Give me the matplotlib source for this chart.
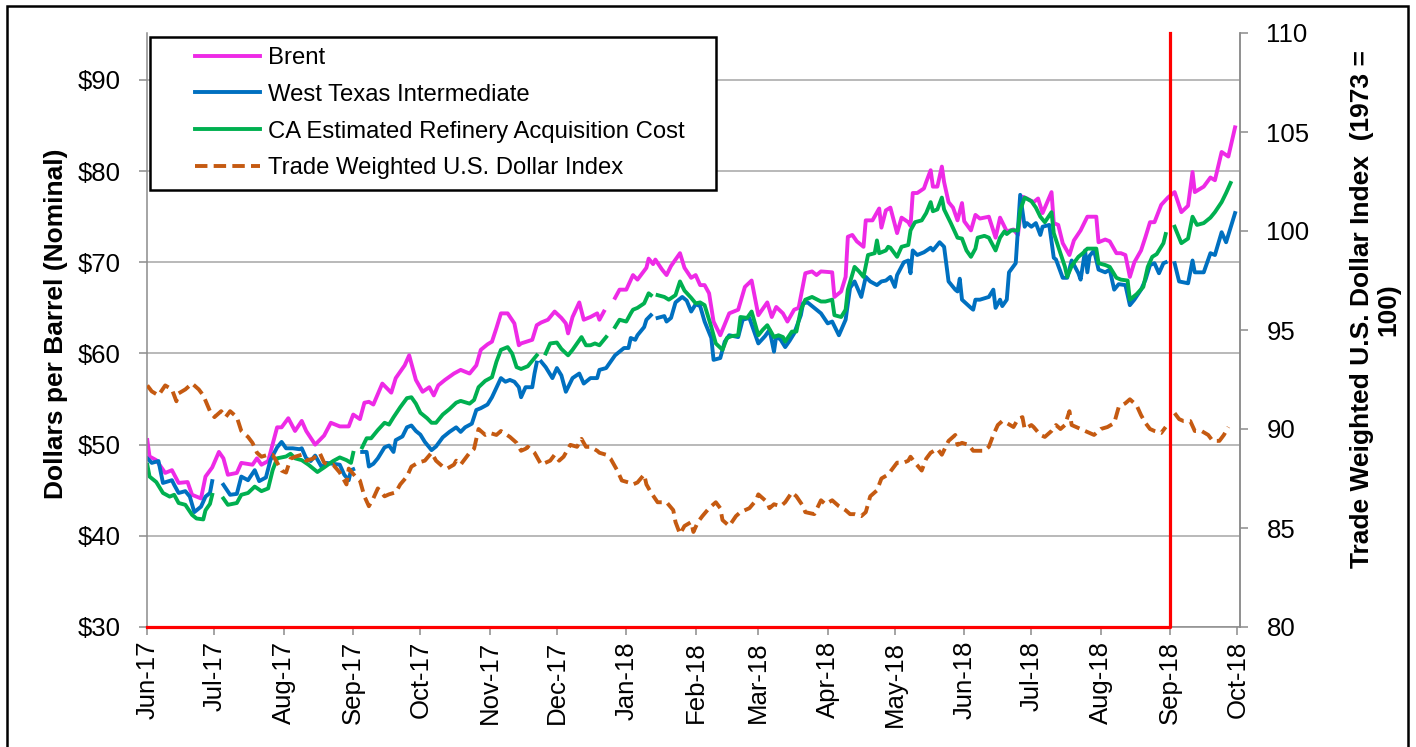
import numpy as np
import pandas as pd
import matplotlib
matplotlib.use("Agg")
import matplotlib.pyplot as plt
import matplotlib.dates as mdates
from matplotlib.lines import Line2D
from matplotlib.patches import Rectangle
from matplotlib.legend_handler import HandlerLine2D

nan = np.nan
START = "2017-06-01"          # day 0 of the day offsets below
MARKER_DATE = "2018-09-01"    # red vertical marker

# ---------------- data (day offset from START, value) ----------------
brent_day = [0,1,4,8,11,14,18,20,24,26,29,32,34,36,40,42,47,49,51,54,58,60,63,66,69,71,75,79,82,86,90,92,95,97,99,101,
             105,107,109,111,115,117,120,123,126,128,130,133,137,140,144,147,149,152,154,156,158,161,164,166,167,172,174,
             176,179,182,185,187,188,190,193,195,198,201,202,204,206,209,211,214,217,219,223,224,226,227,230,232,234,236,
             238,240,243,245,247,249,251,253,256,260,264,267,270,273,277,279,281,284,286,289,291,294,297,299,301,306,307,
             310,312,313,315,317,320,321,324,327,328,330,332,335,337,340,341,342,344,347,348,350,351,353,355,356,358,360,
             362,364,365,368,370,372,376,379,381,384,387,389,391,393,396,398,400,404,405,407,409,412,414,417,420,424,425,
             428,430,433,435,437,439,441,444,446,448,450,453,456,459,462,465,467,468,472,475,477,480,483,486]
brent_usd = [50.5,48.7,48.3,46.9,47.2,45.8,45.9,44.5,44.1,46.5,47.5,49.2,48.5,46.7,46.9,48.0,47.8,48.5,47.8,48.2,51.9,51.9,
             52.9,51.5,52.6,51.5,50.0,51.0,52.4,52.0,52.0,53.3,52.8,54.6,54.7,54.4,56.7,56.2,55.7,57.3,58.7,59.8,57.1,55.8,
             56.3,55.4,56.5,57.1,57.8,58.2,57.8,58.7,60.4,61.0,61.3,62.8,64.4,64.4,63.3,60.9,61.1,61.5,63.1,63.4,63.7,64.6,
             63.9,63.3,62.2,64.0,65.6,63.7,64.0,64.4,63.7,64.6,nan,66.1,67.0,67.0,68.6,68.1,69.4,70.4,69.8,70.3,69.2,68.6,
             69.6,70.3,71.0,69.4,68.3,68.6,67.5,67.5,66.6,63.5,62.0,64.4,64.8,67.3,68.0,64.2,65.6,64.0,65.1,64.4,63.5,64.8,
             65.0,68.8,69.0,68.6,69.0,68.9,66.2,66.8,68.4,72.8,73.0,72.3,71.7,74.6,74.6,75.9,73.8,75.7,76.0,73.2,74.9,74.4,
             74.0,77.6,77.6,78.1,78.8,80.1,78.3,78.3,80.5,78.8,76.6,76.0,74.6,76.5,74.5,73.5,75.2,74.8,75.0,72.7,74.9,73.4,
             73.6,73.0,77.2,77.0,76.6,77.0,75.4,77.7,74.3,74.1,72.1,70.8,72.4,73.5,75.0,75.0,72.2,72.5,72.3,71.0,71.0,70.8,
             68.4,70.0,71.3,72.8,74.4,74.4,76.3,77.1,77.7,75.5,76.2,79.9,77.7,78.3,79.3,79.0,82.1,81.6,84.8]

wti_day = [0,2,5,7,11,12,14,17,19,21,24,26,28,29,31,34,37,40,42,45,48,50,53,55,58,60,62,65,68,69,71,73,75,78,80,83,86,88,
           90,91,92,94,96,98,99,101,103,106,108,110,111,114,116,118,120,122,124,127,129,132,135,138,140,142,145,147,149,
           152,154,158,160,162,164,166,167,169,172,173,174,175,176,178,181,183,185,187,190,193,195,198,201,202,205,207,
           209,211,213,215,216,218,219,222,223,225,226,228,231,232,234,236,239,241,243,245,247,249,252,253,256,258,260,
           264,266,269,273,276,278,280,281,283,285,287,289,292,293,295,298,301,304,306,309,312,314,316,319,321,323,326,
           328,330,332,334,335,338,340,341,342,344,347,350,351,354,356,358,361,362,363,364,368,369,370,372,376,378,379,
           381,382,384,385,388,390,392,393,395,397,399,400,403,405,406,409,411,413,416,417,419,420,421,423,425,428,430,
           432,434,437,439,441,444,446,448,450,452,454,455,457,459,461,465,467,468,472,475,477,480,482,484,486]
wti_usd = [48.5,48.0,48.2,45.8,46.1,45.6,44.7,44.9,44.3,42.6,43.2,44.3,44.7,46.0,nan,45.6,44.5,44.6,46.5,46.1,47.2,46.0,
           46.4,48.3,49.7,50.3,49.6,49.6,49.5,49.6,48.5,48.2,48.8,47.5,48.0,47.9,47.8,46.7,46.1,47.2,47.3,nan,49.2,49.2,
           47.6,47.9,48.5,49.7,49.9,49.2,50.5,50.9,51.9,52.1,51.5,51.1,50.3,49.4,49.8,50.8,51.4,51.9,51.4,51.9,52.3,53.8,
           54.0,54.4,55.2,57.3,56.9,57.1,56.9,56.3,55.2,56.3,56.3,57.8,59.0,nan,59.1,58.5,57.3,58.4,57.6,55.8,57.3,57.8,
           56.7,57.3,57.3,58.2,58.4,59.1,59.8,60.2,60.6,60.6,61.7,61.5,62.0,62.9,63.7,64.2,nan,63.9,64.1,63.5,63.9,65.6,
           66.2,65.8,64.6,65.4,65.2,63.5,61.7,59.3,59.5,61.3,62.0,61.8,63.7,63.9,61.1,61.9,62.6,60.2,61.9,61.5,60.7,61.4,
           62.2,64.2,65.5,65.6,65.0,64.4,63.3,63.5,62.0,63.7,67.2,67.9,66.2,68.4,67.9,67.5,67.9,68.0,68.4,67.3,68.6,70.0,
           70.2,68.8,71.3,70.8,71.1,71.6,71.3,72.2,71.7,67.9,67.0,66.8,68.2,65.9,65.0,64.8,65.9,65.9,66.2,67.0,65.0,65.9,
           65.2,65.9,68.9,69.9,77.4,73.9,74.3,73.9,74.3,73.0,73.9,74.1,70.5,70.3,68.3,68.3,70.2,68.8,68.1,71.3,68.9,70.7,
           71.3,69.2,68.9,69.2,67.0,67.6,67.5,65.3,65.9,67.0,68.1,69.7,69.9,68.8,69.9,70.0,nan,69.9,67.9,67.7,70.2,68.9,
           68.9,71.0,70.8,73.3,72.2,73.8,75.4]

ca_day = [0,1,4,7,10,12,14,17,20,22,25,26,28,29,31,34,36,40,42,45,48,51,54,56,58,62,64,66,69,72,76,79,83,86,89,91,92,94,
          96,98,100,103,106,108,110,113,116,118,120,122,125,127,129,132,135,138,140,144,146,148,151,154,156,158,161,163,
          165,167,170,173,174,176,178,180,183,185,188,190,194,196,198,200,202,205,207,209,211,214,216,217,219,222,224,
          225,226,228,231,233,236,238,240,243,245,247,249,252,254,257,259,261,264,265,268,270,273,275,277,280,282,284,
          285,288,290,292,294,297,301,303,306,307,310,312,313,316,318,320,322,325,326,327,330,331,332,335,337,340,341,
          343,346,348,350,351,353,355,356,359,362,364,366,368,370,371,374,376,379,381,383,384,386,389,390,392,395,397,
          399,401,404,405,408,410,411,413,416,418,420,424,425,428,430,433,435,438,439,442,445,447,449,451,454,455,457,
          459,462,465,467,469,472,475,477,480,482,484]
ca_usd = [47.8,46.5,45.9,44.7,44.3,44.5,43.6,43.4,42.3,41.9,41.8,42.8,43.5,44.5,nan,44.1,43.4,43.6,44.5,44.7,45.4,44.9,
          45.2,47.2,48.5,48.7,49.0,48.5,48.3,47.8,47.0,47.5,48.2,48.6,48.3,48.0,49.1,nan,49.7,50.7,50.7,51.6,52.4,52.2,
          53.0,54.1,55.1,55.2,54.5,53.5,52.9,52.4,52.4,53.3,53.9,54.6,54.8,54.5,54.9,56.3,57.0,57.4,59.1,60.4,60.7,60.0,
          58.5,58.3,58.6,59.5,59.8,nan,60.0,61.1,61.2,60.5,59.8,60.4,61.8,60.9,60.9,61.1,60.9,61.8,nan,62.9,63.7,63.5,
          64.4,64.8,65.0,65.5,66.6,66.4,nan,66.4,66.2,65.9,66.4,67.9,66.9,66.1,65.5,65.6,65.3,62.9,61.1,60.4,61.7,61.9,
          62.0,64.0,63.9,64.6,62.0,62.6,63.1,61.8,62.0,61.8,61.3,62.4,62.4,64.8,65.9,66.2,65.7,65.7,65.9,64.2,64.0,64.8,
          67.0,69.5,69.0,68.4,70.8,71.0,72.4,71.0,71.3,71.7,71.6,70.6,71.7,71.9,73.5,74.4,74.6,75.4,76.6,75.6,75.8,77.1,
          75.8,74.3,72.7,72.6,71.3,70.6,71.5,72.7,72.9,72.7,71.3,72.7,73.4,73.1,73.5,73.5,75.7,77.1,76.7,76.0,75.0,74.4,
          75.5,73.2,71.0,69.5,68.4,69.6,70.6,71.0,71.5,71.5,69.9,69.7,69.5,68.3,68.1,68.0,65.9,66.5,67.3,69.5,70.6,70.9,
          72.1,73.1,nan,73.9,72.1,72.6,75.0,74.1,74.3,74.9,75.5,76.6,77.6,78.7]

twi_day = [0,2,5,8,11,13,14,17,20,23,25,28,30,33,35,37,40,42,45,47,49,51,54,56,58,60,62,64,66,69,71,74,77,79,81,83,86,
           89,90,93,95,97,99,101,103,106,108,111,113,116,118,121,124,127,129,132,134,137,138,140,144,146,148,151,153,
           156,158,162,165,167,169,170,173,176,180,182,184,186,189,192,194,196,198,201,202,205,207,210,212,215,217,219,
           222,223,225,228,232,235,236,238,240,243,244,246,248,251,254,256,257,260,263,265,269,272,273,277,278,280,283,
           285,288,290,293,294,298,301,303,306,309,312,314,316,319,321,323,326,328,331,333,335,338,340,341,343,346,348,
           350,353,355,358,361,362,364,367,369,371,374,376,378,380,382,384,387,389,391,392,395,396,399,401,404,406,408,
           410,412,413,417,419,423,426,429,432,434,437,439,442,444,446,448,450,453,455,457,459,461,463,466,468,471,474,
           476,479,481,483]
twi_index = [92.2,91.9,91.7,92.2,92.0,91.4,91.8,92.0,92.3,92.0,91.7,90.9,90.6,90.9,90.6,90.9,90.6,89.9,89.6,89.3,88.8,
             88.6,88.7,88.7,88.3,87.9,87.8,88.5,88.6,88.7,88.4,88.5,88.8,88.3,88.2,88.2,87.8,87.2,88.0,87.6,87.4,86.6,
             86.1,86.5,87.0,86.6,86.7,86.8,87.2,87.6,88.1,88.3,88.4,88.8,88.4,88.1,88.0,88.2,88.4,88.2,88.8,89.0,90.0,
             89.7,89.8,89.7,89.9,89.6,89.3,88.9,89.0,89.1,88.8,88.2,88.4,88.7,88.4,88.6,89.2,89.1,89.5,89.1,89.1,88.9,
             88.8,88.7,88.5,87.9,87.4,87.3,87.2,87.3,87.7,87.2,86.8,86.3,86.3,85.9,85.3,84.7,85.1,85.3,84.8,85.3,85.6,
             86.0,86.3,86.0,85.4,85.1,85.6,85.8,86.0,86.4,86.7,86.3,86.0,86.2,86.1,86.3,86.8,86.6,86.1,85.8,85.7,86.4,
             86.2,86.4,86.1,85.9,85.7,85.7,85.6,85.8,86.6,86.9,87.5,87.7,88.0,88.3,88.3,88.4,88.6,88.3,87.9,88.5,88.8,
             89.0,88.7,89.4,89.7,89.2,89.3,89.2,88.9,88.9,88.9,89.1,89.7,90.2,90.4,90.3,90.1,90.5,90.6,90.0,90.2,90.1,
             89.7,89.6,89.9,90.2,90.0,90.2,90.9,90.2,90.0,89.9,89.7,90.0,90.1,90.3,91.1,91.3,91.5,91.2,90.7,90.3,90.0,
             89.9,89.8,90.1,nan,90.8,90.5,90.4,90.4,89.9,89.9,89.7,89.4,89.4,89.7,90.1]

series_labels = ["Brent", "West Texas Intermediate", "CA Estimated Refinery Acquisition Cost",
                 "Trade Weighted U.S. Dollar Index"]
usd_ticks = [30, 40, 50, 60, 70, 80, 90]
index_ticks = [80, 85, 90, 95, 100, 105, 110]

# ---------------- styling ----------------
plt.rcParams["font.family"] = ["Liberation Sans", "DejaVu Sans"]
GRAY = "#8c8c8c"
start = pd.Timestamp(START)


def to_dates(days):
    return start + pd.to_timedelta(np.asarray(days, dtype=float), unit="D")


fig = plt.figure(figsize=(14.16, 7.47), dpi=100)
ax = fig.add_axes([147.3 / 1416, 1 - 627 / 747, (1240 - 147.3) / 1416, 594 / 747])
ax2 = ax.twinx()

lw = 2.8
l1, = ax.plot(to_dates(brent_day), brent_usd, color="#ee2ae6", lw=lw, label=series_labels[0], solid_joinstyle="round")
l2, = ax.plot(to_dates(wti_day), wti_usd, color="#0070c0", lw=lw, label=series_labels[1], solid_joinstyle="round")
l3, = ax.plot(to_dates(ca_day), ca_usd, color="#00b050", lw=lw, label=series_labels[2], solid_joinstyle="round")
l4, = ax2.plot(to_dates(twi_day), twi_index, color="#c55a11", lw=lw, ls=(0, (3.2, 1.6)),
               label=series_labels[3], dash_capstyle="butt")

# red marker line (bottom + vertical at marker date)
md = pd.Timestamp(MARKER_DATE)
ax2.plot([start, md, md], [index_ticks[0], index_ticks[0], index_ticks[-1]], color="#ff0000", lw=2.3,
         zorder=6, clip_on=False)

ax.set_xlim(start, pd.Timestamp("2018-10-02 05:00"))
ax.set_ylim(30, 95.15)
ax2.set_ylim(80, 110)

ax.set_yticks(usd_ticks)
ax.set_yticklabels([f"${v}" for v in usd_ticks])
ax2.set_yticks(index_ticks)
ax.xaxis.set_major_locator(mdates.MonthLocator())
ax.xaxis.set_major_formatter(mdates.DateFormatter("%b-%y"))

ax.yaxis.grid(True, color="#a6a6a6", lw=1.1)
ax.set_axisbelow(True)

for a in (ax, ax2):
    a.spines["top"].set_visible(False)
    for s in ("left", "right", "bottom"):
        a.spines[s].set_color(GRAY)
        a.spines[s].set_linewidth(1.1)
ax2.spines["left"].set_visible(False)
ax2.spines["bottom"].set_visible(False)

ax.tick_params(axis="y", direction="out", length=6, width=1.1, color=GRAY, labelsize=18.5, pad=13)
ax2.tick_params(axis="y", direction="out", length=6, width=1.1, color=GRAY, labelsize=18.5, pad=13)
ax.tick_params(axis="x", direction="out", length=6, width=1.1, color=GRAY, labelsize=18.5, pad=4,
               labelrotation=90)

ax.set_ylabel("Dollars per Barrel (Nominal)", fontsize=19, fontweight="bold")
ax.yaxis.set_label_coords(-0.0726, 0.51)
ax2.set_ylabel("Trade Weighted U.S. Dollar Index  (1973 =\n100)", fontsize=19, fontweight="bold",
               multialignment="center", linespacing=1.1)
ax2.yaxis.set_label_coords(1.1007, 0.535)


class LeadHandler(HandlerLine2D):
    def __init__(self, lead, **kw):
        super().__init__(**kw)
        self.lead = lead

    def create_artists(self, legend, orig_handle, xdescent, ydescent, width, height, fontsize, trans):
        lead = self.lead * fontsize
        return super().create_artists(legend, orig_handle, xdescent - lead, ydescent, width - lead,
                                      height, fontsize, trans)


leg = ax2.legend([l1, l2, l3, l4], series_labels, loc="upper left",
                 bbox_to_anchor=(2.7 / 1092.7, 0, 566 / 1092.7, 590 / 594), mode="expand",
                 borderaxespad=0, borderpad=0.42, labelspacing=0.62, handlelength=4.2, handletextpad=0.3,
                 fontsize=17.2, fancybox=False, framealpha=1, edgecolor="black",
                 handler_map={Line2D: LeadHandler(1.45)})
leg.get_frame().set_linewidth(1.8)
leg.set_zorder(10)

fig.add_artist(Rectangle((7 / 1416, -0.05), 1401 / 1416, 1.05 - 6 / 747, transform=fig.transFigure,
                         fill=False, ec="black", lw=1.8))

fig.savefig("out.png", dpi=100)
